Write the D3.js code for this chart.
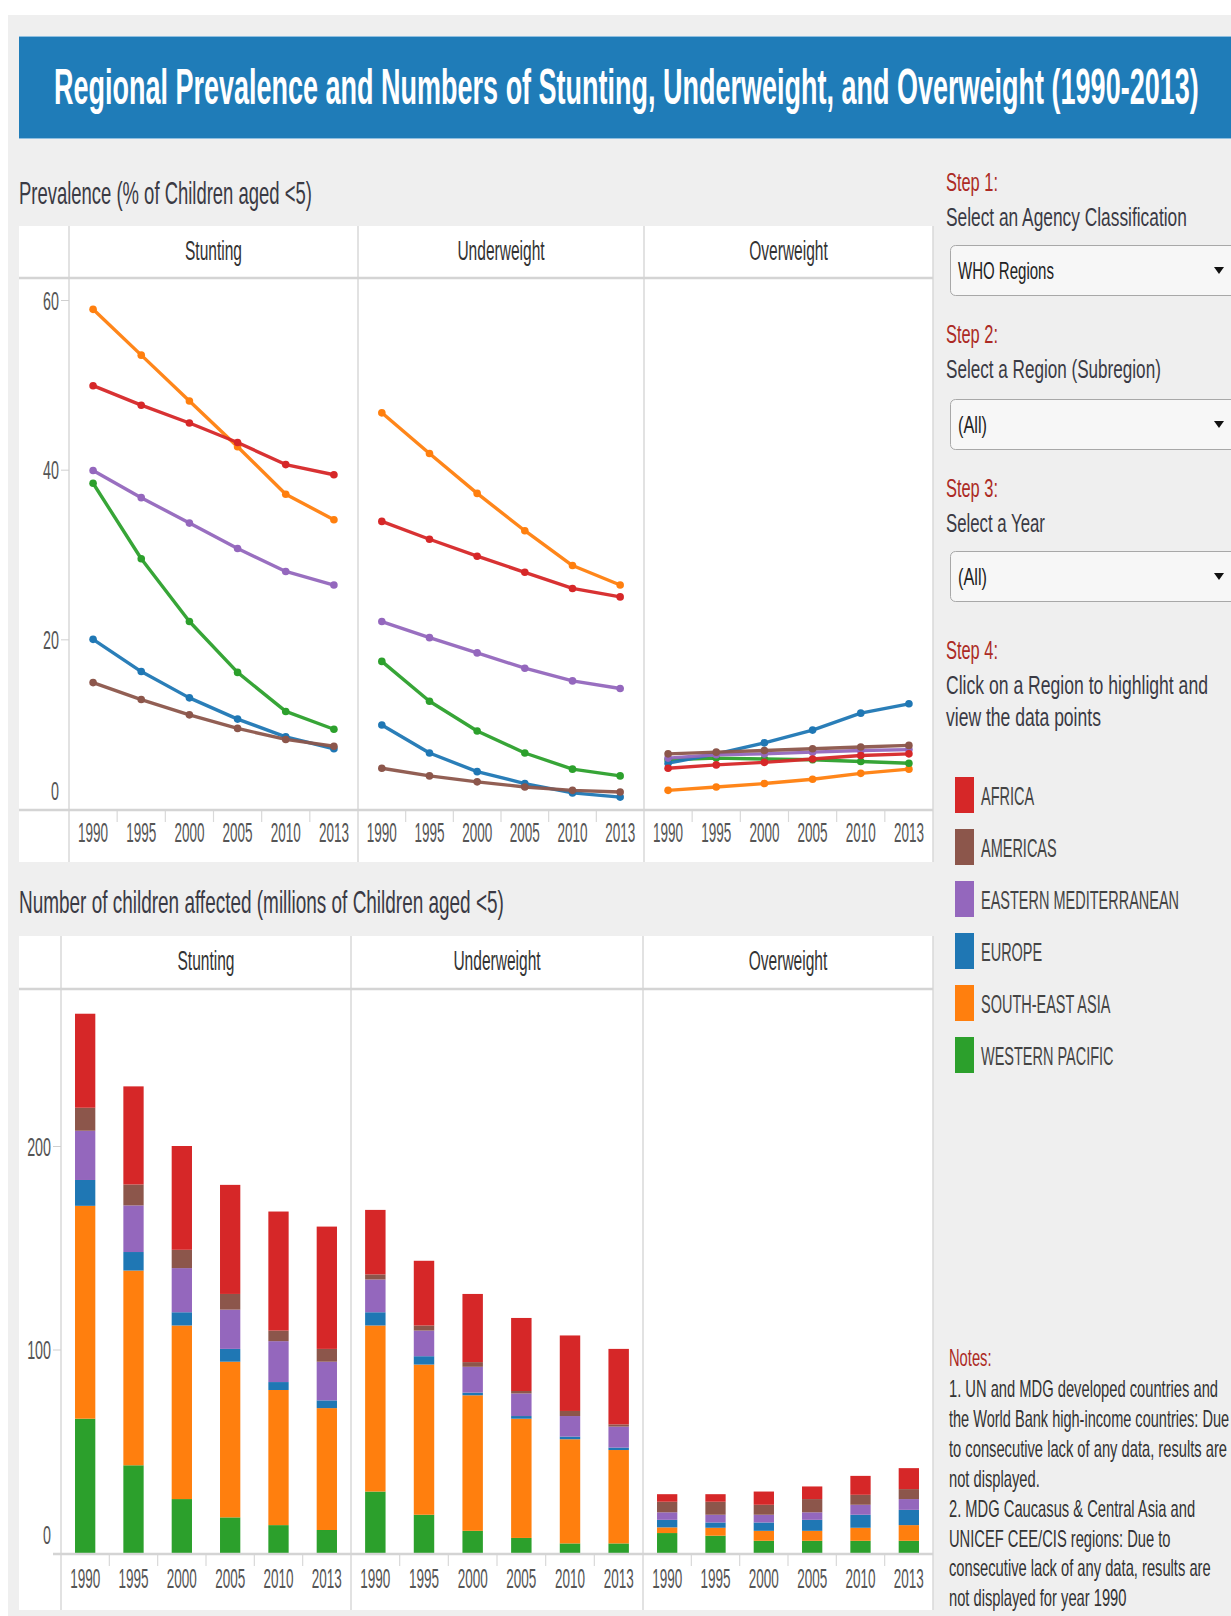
<!DOCTYPE html>
<html>
<head>
<meta charset="utf-8">
<script src="https://cdn.jsdelivr.net/npm/d3@7"></script>
<style>
  body { margin: 0; background: #fff; }
  svg { display: block; font-family: "Liberation Sans", Arial, sans-serif; }
</style>
</head>
<body>
<script>
// ---- data ----
var regions = ["AFRICA", "AMERICAS", "EASTERN MEDITERRANEAN", "EUROPE", "SOUTH-EAST ASIA", "WESTERN PACIFIC"];
var regionColors = ["#d62728", "#8c564b", "#9467bd", "#1f77b4", "#ff7f0e", "#2ca02c"];
var years = ["1990", "1995", "2000", "2005", "2010", "2013"];
var indicators = ["Stunting", "Underweight", "Overweight"];

// prevalence, % of children aged <5 (rows follow `regions`)
var stuntingPrev = [
  [49.9, 47.6, 45.5, 43.2, 40.6, 39.4],
  [14.9, 12.9, 11.1, 9.5, 8.2, 7.4],
  [39.9, 36.7, 33.7, 30.7, 28.0, 26.4],
  [20.0, 16.2, 13.1, 10.6, 8.5, 7.1],
  [58.9, 53.5, 48.1, 42.7, 37.1, 34.1],
  [38.4, 29.5, 22.1, 16.1, 11.5, 9.4]
];
var underweightPrev = [
  [33.9, 31.8, 29.8, 27.9, 26.0, 25.0],
  [4.8, 3.9, 3.2, 2.6, 2.2, 2.0],
  [22.1, 20.2, 18.4, 16.6, 15.1, 14.2],
  [9.9, 6.6, 4.4, 3.0, 1.9, 1.4],
  [46.7, 41.9, 37.2, 32.8, 28.7, 26.4],
  [17.4, 12.7, 9.2, 6.6, 4.7, 3.9]
];
var overweightPrev = [
  [4.8, 5.2, 5.5, 5.9, 6.3, 6.5],
  [6.5, 6.7, 6.9, 7.1, 7.3, 7.5],
  [6.0, 6.4, 6.5, 6.7, 6.9, 7.0],
  [5.4, 6.5, 7.8, 9.3, 11.3, 12.4],
  [2.2, 2.6, 3.0, 3.5, 4.2, 4.7],
  [5.8, 6.0, 5.9, 5.8, 5.6, 5.4]
];

// numbers, millions of children aged <5 (rows follow `regions`)
var stuntingNum = [
  [46.2, 48.2, 51.0, 53.6, 58.5, 60.1],
  [11.3, 10.3, 9.0, 7.7, 5.2, 6.3],
  [24.2, 22.9, 21.7, 19.3, 20.1, 19.0],
  [12.7, 9.1, 6.5, 6.3, 3.9, 3.8],
  [104.6, 95.7, 85.3, 76.5, 66.4, 59.9],
  [66.0, 43.1, 26.5, 17.5, 13.7, 11.3]
];
var underweightNum = [
  [31.7, 31.8, 33.5, 35.9, 37.1, 37.1],
  [2.5, 2.5, 2.3, 1.2, 2.5, 1.1],
  [16.1, 12.6, 12.7, 11.1, 10.1, 10.3],
  [6.5, 4.1, 1.3, 1.3, 1.3, 1.2],
  [81.6, 73.8, 66.6, 58.6, 51.2, 45.9],
  [30.2, 18.8, 10.9, 7.4, 4.7, 4.7]
];
var overweightNum = [
  [3.7, 3.7, 6.5, 6.2, 9.3, 10.3],
  [5.2, 6.4, 4.9, 6.5, 4.9, 4.9],
  [3.7, 3.8, 3.8, 3.7, 4.9, 5.3],
  [3.7, 2.6, 4.1, 5.4, 6.4, 7.5],
  [2.8, 3.9, 4.9, 4.9, 6.4, 7.7],
  [9.8, 8.5, 6.0, 6.0, 6.0, 6.0]
];

var prevTicks = [0, 20, 40, 60];
var numTicks = [0, 100, 200];

var notes = [
  "1. UN and MDG developed countries and",
  "the World Bank high-income countries: Due",
  "to consecutive lack of any data, results are",
  "not displayed.",
  "2. MDG Caucasus & Central Asia and",
  "UNICEF CEE/CIS regions: Due to",
  "consecutive lack of any data, results are",
  "not displayed for year 1990"
];

// ---- drawing ----
var W = 1231, H = 1616;
var svg = d3.select("body").append("svg").attr("width", W).attr("height", H);
var color = d3.scaleOrdinal().domain(regions).range(regionColors);
var textCol = "#3a3a44", tickCol = "#555", lineCol = "#d9d9d9", stepRed = "#ac2a24";

// squeezed text helper (the picture's type is narrow and tall)
function addText(parent, x, y, str, o) {
  o = o || {};
  return parent.append("text")
    .attr("transform", "translate(" + x + "," + y + ") scale(" + (o.sx || 0.56) + ",1)")
    .attr("text-anchor", o.anchor || "start")
    .attr("dy", o.dy || null)
    .style("font-size", (o.size || 26) + "px")
    .style("font-weight", o.weight || null)
    .style("fill", o.fill || textCol)
    .text(str);
}
// same, but squeezed to a measured width
function fitText(parent, x, y, str, size, len, fill, weight) {
  var t = addText(parent, x, y, str, { size: size, sx: 1, fill: fill, weight: weight });
  var natural = t.node().getComputedTextLength();
  t.attr("transform", "translate(" + x + "," + y + ") scale(" + (len / natural) + ",1)");
  return t;
}

svg.append("rect").attr("x", 8).attr("y", 15).attr("width", W - 8).attr("height", H - 15).attr("fill", "#efefef");

// title bar
svg.append("rect").attr("x", 19).attr("y", 36).attr("width", W - 19).attr("height", 103).attr("fill", "#1f7cb8");
svg.append("line").attr("x1", 19).attr("x2", W).attr("y1", 36.5).attr("y2", 36.5).attr("stroke", "#8fbfe0");
svg.append("line").attr("x1", 19).attr("x2", W).attr("y1", 138.5).attr("y2", 138.5).attr("stroke", "#8fbfe0");
fitText(svg, 54, 104, "Regional Prevalence and Numbers of Stunting, Underweight, and Overweight (1990-2013)", 50, 1145, "#fff", "bold");

fitText(svg, 19, 204, "Prevalence (% of Children aged <5)", 31, 293);
fitText(svg, 19, 913, "Number of children affected (millions of Children aged <5)", 31, 485);

var topP = { top: 226, bottom: 862, head: 278, axis: 810, edges: [69, 358, 644, 933], headY: 260, yearY: 32, axisStart: 19 };
var botP = { top: 936, bottom: 1610, head: 989, axis: 1554, edges: [61, 351, 643, 933], headY: 970, yearY: 34, axisStart: 53 };

function frame(p) {
  var g = svg.append("g");
  g.append("rect").attr("x", 19).attr("y", p.top).attr("width", 933 - 19).attr("height", p.bottom - p.top).attr("fill", "#fff");
  p.edges.forEach(function(x) {
    g.append("line").attr("x1", x).attr("x2", x).attr("y1", p.top).attr("y2", p.bottom)
      .attr("stroke", lineCol).attr("stroke-width", 1.5);
  });
  g.append("line").attr("x1", 19).attr("x2", 933).attr("y1", p.head).attr("y2", p.head)
    .attr("stroke", "#d4d4d4").attr("stroke-width", 2.5);
  indicators.forEach(function(name, i) {
    addText(g, (p.edges[i] + p.edges[i + 1]) / 2, p.headY, name, { size: 28, sx: 0.555, anchor: "middle", fill: "#333" });
  });
  return g;
}

function xAxis(p, x) {
  var ax = svg.append("g").attr("transform", "translate(0," + p.axis + ")")
    .call(d3.axisBottom(x).tickSize(0).tickPadding(0));
  ax.attr("font-size", null).attr("font-family", null);
  ax.select(".domain").remove();
  ax.selectAll("text")
    .attr("y", null).attr("dy", null)
    .attr("transform", "translate(0," + p.yearY + ") scale(0.5,1)")
    .style("font-size", "27px").style("fill", tickCol);
  years.slice(1).forEach(function(yr) {
    ax.append("line").attr("x1", x(yr)).attr("x2", x(yr)).attr("y1", 0).attr("y2", 12)
      .attr("stroke", lineCol).attr("stroke-width", 1.2);
  });
}

function yAxis(p, y, ticks) {
  var ax = svg.append("g").attr("transform", "translate(" + p.edges[0] + ",0)")
    .call(d3.axisLeft(y).tickValues(ticks).tickSize(8).tickPadding(0));
  ax.attr("font-size", null).attr("font-family", null);
  ax.select(".domain").remove();
  ax.selectAll(".tick line").attr("stroke", "#cfcfcf");
  ax.selectAll("text")
    .attr("x", null).attr("dy", "0.35em")
    .attr("transform", function(d) { return "translate(-10," + (d === 0 ? -19 : 0) + ") scale(0.55,1)"; })
    .style("font-size", "26px").style("fill", tickCol);
}

function axisLine(p) {
  svg.append("line").attr("x1", p.axisStart).attr("x2", 933).attr("y1", p.axis).attr("y2", p.axis)
    .attr("stroke", "#d4d4d4").attr("stroke-width", 2.5);
}

// ---- prevalence lines ----
frame(topP);
var yPrev = d3.scaleLinear().domain([0, 60]).range([topP.axis - 1, 300]);
yAxis(topP, yPrev, prevTicks);
var prevSets = [stuntingPrev, underweightPrev, overweightPrev];
var drawOrder = [4, 5, 3, 2, 0, 1];

prevSets.forEach(function(set, i) {
  var x = d3.scaleBand().domain(years).range([topP.edges[i], topP.edges[i + 1]]);
  var cx = function(yr) { return x(yr) + x.bandwidth() / 2; };
  var line = d3.line().x(function(d) { return cx(d.year); }).y(function(d) { return yPrev(d.value); });
  var g = svg.append("g");
  drawOrder.forEach(function(k) {
    var pts = years.map(function(yr, j) { return { year: yr, value: set[k][j] }; });
    g.append("path").datum(pts).attr("d", line)
      .attr("fill", "none").attr("stroke", regionColors[k]).attr("stroke-width", 3.4)
      .attr("stroke-linejoin", "round").attr("stroke-opacity", 0.95);
    g.selectAll(null).data(pts).enter().append("circle")
      .attr("cx", function(d) { return cx(d.year); })
      .attr("cy", function(d) { return yPrev(d.value); })
      .attr("r", 3.8).attr("fill", regionColors[k]);
  });
  xAxis(topP, x);
});
axisLine(topP);

// ---- number stacked bars ----
frame(botP);
var yNum = d3.scaleLinear().domain([0, 200]).range([botP.axis - 1, 1146]);
yAxis(botP, yNum, numTicks);
var numSets = [stuntingNum, underweightNum, overweightNum];
var stackKeys = ["WESTERN PACIFIC", "SOUTH-EAST ASIA", "EUROPE", "EASTERN MEDITERRANEAN", "AMERICAS", "AFRICA"];

numSets.forEach(function(set, i) {
  var x = d3.scaleBand().domain(years).range([botP.edges[i], botP.edges[i + 1]]);
  var rows = years.map(function(yr, j) {
    var r = { year: yr };
    regions.forEach(function(reg, k) { r[reg] = set[k][j]; });
    return r;
  });
  var series = d3.stack().keys(stackKeys)(rows);
  var bw = x.bandwidth() * 0.42;
  svg.append("g").selectAll("g").data(series).enter().append("g")
    .attr("fill", function(s) { return color(s.key); })
    .selectAll("rect").data(function(s) { return s; }).enter().append("rect")
      .attr("x", function(d) { return x(d.data.year) + (x.bandwidth() - bw) / 2; })
      .attr("width", bw)
      .attr("y", function(d) { return yNum(d[1]); })
      .attr("height", function(d) { return yNum(d[0]) - yNum(d[1]); });
  xAxis(botP, x);
});
axisLine(botP);

// ---- right-hand controls ----
var side = svg.append("g");
var steps = [
  { step: "Step 1:", lines: ["Select an Agency Classification"], widths: [241], y: 191, box: 245, value: "WHO Regions", vw: 96 },
  { step: "Step 2:", lines: ["Select a Region (Subregion)"], widths: [215], y: 343, box: 399, value: "(All)", vw: 29 },
  { step: "Step 3:", lines: ["Select a Year"], widths: [99], y: 497, box: 551, value: "(All)", vw: 29 },
  { step: "Step 4:", lines: ["Click on a Region to highlight and", "view the data points"], widths: [262, 155], y: 659 }
];
steps.forEach(function(s) {
  fitText(side, 946, s.y, s.step, 25, 52, stepRed);
  s.lines.forEach(function(l, j) {
    fitText(side, 946, s.y + 35 + j * 32, l, 25, s.widths[j], "#3a3a44");
  });
  if (s.box) {
    side.append("rect").attr("x", 950.5).attr("y", s.box + 0.5).attr("width", 310).attr("height", 50)
      .attr("rx", 5).attr("fill", "#f7f7f7").attr("stroke", "#a8a8a8");
    fitText(side, 958, s.box + 34, s.value, 23, s.vw, "#222");
    side.append("path").attr("d", "M-5,-3L5,-3L0,4Z")
      .attr("transform", "translate(1219," + (s.box + 25) + ")").attr("fill", "#111");
  }
});

// legend
var legend = side.selectAll(".leg").data(regions).enter().append("g")
  .attr("class", "leg")
  .attr("transform", function(d, i) { return "translate(955," + (777 + i * 52) + ")"; });
legend.append("rect").attr("width", 19).attr("height", 36).attr("fill", function(d) { return color(d); });
legend.each(function(d) { addText(d3.select(this), 26, 28, d, { size: 25, sx: 0.58, fill: "#444" }); });

// notes (lines that would run past the right edge are squeezed to fit)
var notesTop = 1366, notesStep = 29.9;
addText(side, 949, notesTop, "Notes:", { size: 23, sx: 0.64, fill: stepRed });
notes.forEach(function(n, i) {
  var ny = notesTop + 31 + i * notesStep;
  var t = addText(side, 949, ny, n, { size: 23, sx: 0.64, fill: "#333" });
  var w = t.node().getComputedTextLength() * 0.64;
  if (949 + w > W - 2) {
    t.attr("transform", "translate(949," + ny + ") scale(" + ((W - 2 - 949) / t.node().getComputedTextLength()) + ",1)");
  }
});
</script>
</body>
</html>
